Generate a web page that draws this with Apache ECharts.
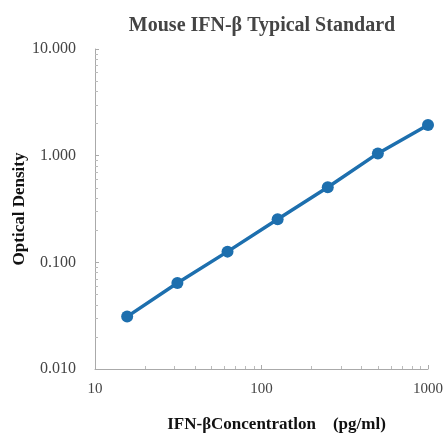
<!DOCTYPE html>
<html>
<head>
<meta charset="utf-8">
<style>
  html, body {margin: 0; padding: 0; background: #fff;}
  #chart {width: 444px; height: 434px;}
</style>
<script src="https://cdn.jsdelivr.net/npm/echarts@6/dist/echarts.min.js"></script>
</head>
<body>
<div id="chart"></div>
<script>
	// standard curve
	var concentration = [15.6, 31.25, 62.5, 125, 250, 500, 1000];
	var opticalDensity = [0.031, 0.064, 0.126, 0.253, 0.505, 1.05, 1.94];

	var serif = '"Liberation Serif", "DejaVu Serif", serif';
	var chart = echarts.init(document.getElementById('chart'));

	var points = [];
	for (var i = 0; i < concentration.length; i++) {
		points.push([concentration[i], opticalDensity[i]]);
	}

	var option = {
		animation: false,
		title: {
			text: 'Mouse IFN-β Typical Standard',
			left: 257,
			top: 11,
			textAlign: 'center',
			textStyle: {
				fontFamily: serif,
				fontSize: 20,
				fontWeight: 'bold',
				color: '#444'
			}
		},
		grid: {
			left: 95,
			right: 16,
			top: 49,
			bottom: 65,
			outerBoundsMode: 'none',
			containLabel: false
		},
		xAxis: {
			type: 'log',
			logBase: 10,
			min: 10,
			max: 1000,
			name: 'IFN-βConcentratlon    (pg/ml)',
			nameLocation: 'middle',
			nameGap: 47,
			nameMoveOverlap: false,
			nameTextStyle: {
				fontFamily: serif,
				fontSize: 17,
				fontWeight: 'bold',
				color: '#111',
				padding: [0, 0, 0, 30]
			},
			axisLine: {lineStyle: {color: '#aaa', width: 1}},
			axisTick: {show: true, inside: true, length: 4, lineStyle: {color: '#aaa'}},
			minorTick: {show: true, splitNumber: 9, length: 3, lineStyle: {color: '#bbb'}},
			splitLine: {show: false},
			axisLabel: {
				fontFamily: serif,
				fontSize: 15,
				color: '#444',
				margin: 13,
				formatter: function (v) {
					return String(Math.round(v));
				}
			}
		},
		yAxis: {
			type: 'log',
			logBase: 10,
			min: 0.01,
			max: 10,
			name: 'Optical Density',
			nameLocation: 'middle',
			nameGap: 67,
			nameMoveOverlap: false,
			nameTextStyle: {
				fontFamily: serif,
				fontSize: 17,
				fontWeight: 'bold',
				color: '#111'
			},
			axisLine: {show: true, lineStyle: {color: '#aaa', width: 1}},
			axisTick: {show: true, inside: true, length: 4, lineStyle: {color: '#aaa'}},
			minorTick: {show: true, splitNumber: 9, length: 3, lineStyle: {color: '#bbb'}},
			splitLine: {show: false},
			axisLabel: {
				fontFamily: serif,
				fontSize: 16,
				color: '#444',
				margin: 19,
				formatter: function (v) {
					return Number(v).toFixed(3);
				}
			}
		},
		series: [{
			type: 'line',
			data: points,
			symbol: 'circle',
			symbolSize: 12,
			lineStyle: {color: '#1d6fae', width: 3.5},
			itemStyle: {color: '#1d6fae'}
		}]
	};
	chart.setOption(option);
</script>
</body>
</html>
